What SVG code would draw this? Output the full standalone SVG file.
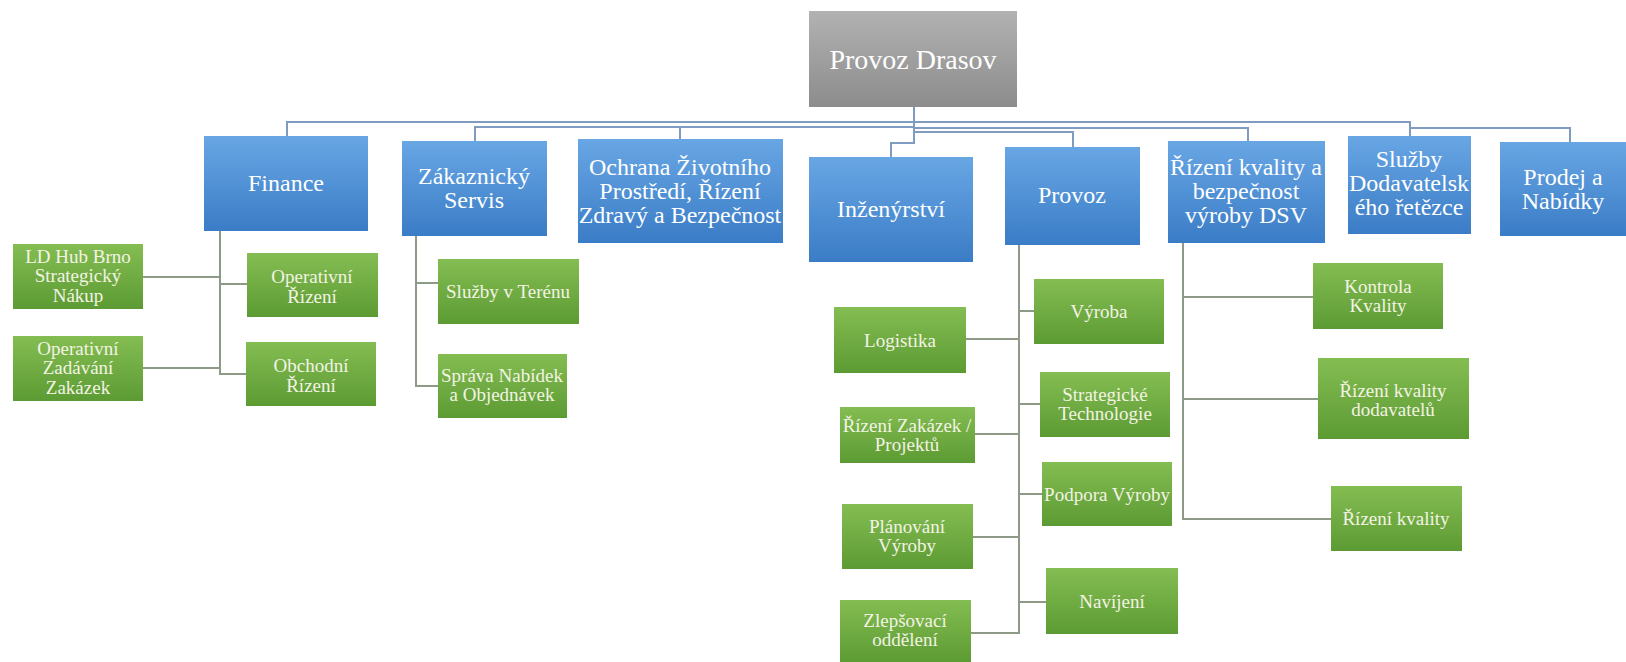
<svg xmlns="http://www.w3.org/2000/svg" width="1626" height="662" viewBox="0 0 1626 662">
<defs>
<linearGradient id="gBlue" x1="0" y1="0" x2="0" y2="1"><stop offset="0" stop-color="#68a6e4"/><stop offset="1" stop-color="#3a7cc6"/></linearGradient>
<linearGradient id="gGreen" x1="0" y1="0" x2="0" y2="1"><stop offset="0" stop-color="#84bd52"/><stop offset="1" stop-color="#5c9b33"/></linearGradient>
<linearGradient id="gGrey" x1="0" y1="0" x2="0" y2="1"><stop offset="0" stop-color="#b2b2b2"/><stop offset="1" stop-color="#8c8c8c"/></linearGradient>
<style>
.blue{fill:url(#gBlue)}
.green{fill:url(#gGreen)}
.grey{fill:url(#gGrey)}
text{font-family:'Liberation Serif','Times New Roman','DejaVu Serif',serif;text-anchor:middle}
.tb{fill:#ffffff;font-size:24px}
.tg{fill:#f3f3e4;font-size:19px}
.tr{fill:#ffffff;font-size:28px}
.cb{fill:none;stroke:#7f9bbf;stroke-width:2}
.cg{fill:none;stroke:#8e9a88;stroke-width:2}
</style>
</defs>
<rect width="1626" height="662" fill="#ffffff"/>
<g id="connectors">
<path class="cb" d="M914 107V143H891V157"/>
<path class="cb" d="M914 122H287V136"/>
<path class="cb" d="M914 127H475V141"/>
<path class="cb" d="M680 127V139"/>
<path class="cb" d="M914 132H1073V147"/>
<path class="cb" d="M914 128H1248V141"/>
<path class="cb" d="M914 122H1410V136"/>
<path class="cb" d="M1410 128H1570V142"/>
<path class="cg" d="M220 231V374H246M143 277H220M220 284H247M143 368H220"/>
<path class="cg" d="M416 236V386H438M416 283H438"/>
<path class="cg" d="M1019 245V633H971M1019 311H1034M966 339H1019M1019 404H1040M975 434H1019M1019 494H1042M973 537H1019M1019 602H1046"/>
<path class="cg" d="M1183 243V519H1331M1183 297H1313M1183 399H1318"/>
</g>
<g id="root"><rect class="grey" x="809" y="11" width="208" height="96"/><text class="tr" x="913" y="69">Provoz Drasov</text></g>
<g id="finance"><rect class="blue" x="204" y="136" width="164" height="95"/><text class="tb" x="286" y="191">Finance</text></g>
<g id="zakaznicky"><rect class="blue" x="402" y="141" width="145" height="95"/><text class="tb" x="474" y="184">Zákaznický</text><text class="tb" x="474" y="208">Servis</text></g>
<g id="ochrana"><rect class="blue" x="578" y="139" width="205" height="104"/><text class="tb" x="680" y="175">Ochrana Životního</text><text class="tb" x="680" y="199">Prostředí, Řízení</text><text class="tb" x="680" y="223">Zdravý a Bezpečnost</text></g>
<g id="inzenyrstvi"><rect class="blue" x="809" y="157" width="164" height="105"/><text class="tb" x="891" y="217">Inženýrství</text></g>
<g id="provoz"><rect class="blue" x="1005" y="147" width="135" height="98"/><text class="tb" x="1072" y="203">Provoz</text></g>
<g id="rizeni-dsv"><rect class="blue" x="1168" y="141" width="157" height="102"/><text class="tb" x="1246" y="175">Řízení kvality a</text><text class="tb" x="1246" y="199">bezpečnost</text><text class="tb" x="1246" y="223">výroby DSV</text></g>
<g id="sluzby-dod"><rect class="blue" x="1348" y="136" width="123" height="98"/><text class="tb" x="1409" y="167">Služby</text><text class="tb" x="1409" y="191">Dodavatelsk</text><text class="tb" x="1409" y="215">ého řetězce</text></g>
<g id="prodej"><rect class="blue" x="1500" y="142" width="126" height="94"/><text class="tb" x="1563" y="185">Prodej a</text><text class="tb" x="1563" y="209">Nabídky</text></g>
<g id="ld-hub"><rect class="green" x="13" y="244" width="130" height="65"/><text class="tg" x="78" y="263">LD Hub Brno</text><text class="tg" x="78" y="282">Strategický</text><text class="tg" x="78" y="302">Nákup</text></g>
<g id="op-zadavani"><rect class="green" x="13" y="336" width="130" height="65"/><text class="tg" x="78" y="355">Operativní</text><text class="tg" x="78" y="374">Zadávání</text><text class="tg" x="78" y="394">Zakázek</text></g>
<g id="op-rizeni"><rect class="green" x="247" y="253" width="131" height="64"/><text class="tg" x="312" y="283">Operativní</text><text class="tg" x="312" y="303">Řízení</text></g>
<g id="obchodni"><rect class="green" x="246" y="342" width="130" height="64"/><text class="tg" x="311" y="372">Obchodní</text><text class="tg" x="311" y="392">Řízení</text></g>
<g id="sluzby-teren"><rect class="green" x="438" y="259" width="141" height="65"/><text class="tg" x="508" y="298">Služby v Terénu</text></g>
<g id="sprava"><rect class="green" x="438" y="354" width="129" height="64"/><text class="tg" x="502" y="382">Správa Nabídek</text><text class="tg" x="502" y="401">a Objednávek</text></g>
<g id="vyroba"><rect class="green" x="1034" y="279" width="130" height="65"/><text class="tg" x="1099" y="318">Výroba</text></g>
<g id="logistika"><rect class="green" x="834" y="307" width="132" height="66"/><text class="tg" x="900" y="347">Logistika</text></g>
<g id="strategicke"><rect class="green" x="1040" y="372" width="130" height="65"/><text class="tg" x="1105" y="401">Strategické</text><text class="tg" x="1105" y="420">Technologie</text></g>
<g id="rizeni-zakazek"><rect class="green" x="840" y="407" width="135" height="56"/><text class="tg" x="907" y="432">Řízení Zakázek /</text><text class="tg" x="907" y="451">Projektů</text></g>
<g id="podpora"><rect class="green" x="1042" y="462" width="130" height="64"/><text class="tg" x="1107" y="501">Podpora Výroby</text></g>
<g id="planovani"><rect class="green" x="842" y="504" width="131" height="65"/><text class="tg" x="907" y="533">Plánování</text><text class="tg" x="907" y="552">Výroby</text></g>
<g id="navijeni"><rect class="green" x="1046" y="568" width="132" height="66"/><text class="tg" x="1112" y="608">Navíjení</text></g>
<g id="zlepsovaci"><rect class="green" x="840" y="600" width="131" height="62"/><text class="tg" x="905" y="627">Zlepšovací</text><text class="tg" x="905" y="646">oddělení</text></g>
<g id="kontrola"><rect class="green" x="1313" y="263" width="130" height="66"/><text class="tg" x="1378" y="293">Kontrola</text><text class="tg" x="1378" y="312">Kvality</text></g>
<g id="rizeni-dodavatelu"><rect class="green" x="1318" y="358" width="151" height="81"/><text class="tg" x="1393" y="397">Řízení kvality</text><text class="tg" x="1393" y="416">dodavatelů</text></g>
<g id="rizeni-kvality"><rect class="green" x="1331" y="486" width="131" height="65"/><text class="tg" x="1396" y="525">Řízení kvality</text></g>
</svg>
